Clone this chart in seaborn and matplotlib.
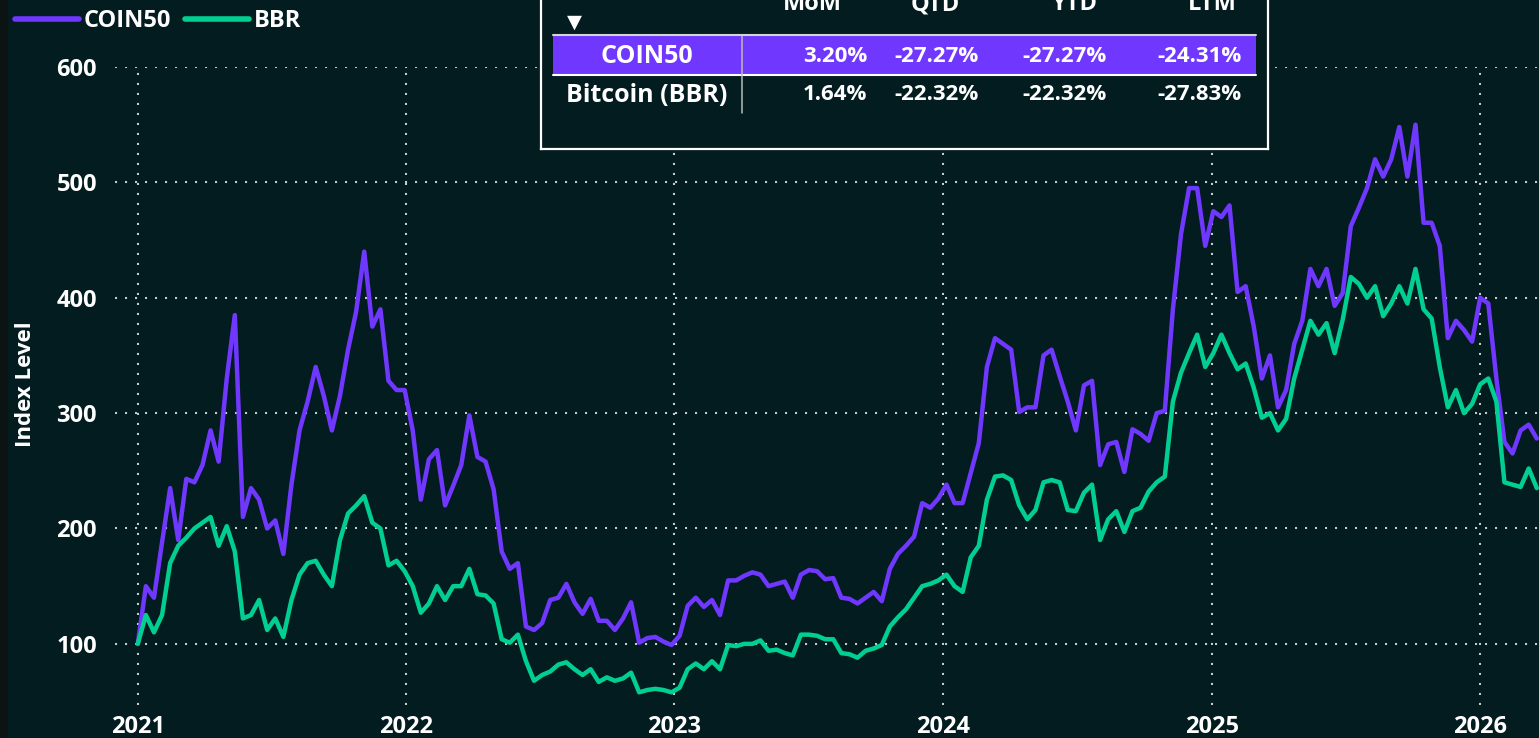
"""
COIN50 vs Bitcoin (BBR) index level chart with a small returns table on top
"""

import pandas as pd
import matplotlib
matplotlib.use('Agg')
import matplotlib.pyplot as plt
import seaborn as sns
from matplotlib.patches import Rectangle

W, H = 1539, 738
BG = '#031c20'
PURPLE = '#7038ff'
GREEN = '#00cf91'

# index levels, one reading every 11 days from 2021-01-01
start_date = '2021-01-01'
step = '11D'
coin50 = [100, 150, 140, 188, 235, 190, 243, 240, 255, 285, 258, 330, 385, 210, 235, 225, 200, 207, 178, 238,
          285, 310, 340, 315, 285, 315, 355, 388, 440, 375, 390, 328, 320, 320, 285, 225, 260, 268, 220, 237,
          255, 298, 262, 258, 234, 180, 165, 170, 115, 112, 118, 138, 140, 152, 136, 126, 139, 120, 120, 112,
          122, 136, 101, 105, 106, 102, 99, 107, 133, 140, 132, 138, 125, 155, 155, 159, 162, 160, 150, 152,
          154, 140, 160, 164, 163, 156, 157, 140, 139, 135, 140, 145, 137, 165, 178, 185, 193, 222, 218, 226,
          238, 222, 222, 248, 274, 340, 365, 360, 355, 301, 305, 305, 350, 355, 332, 310, 285, 324, 328, 255,
          273, 275, 249, 286, 282, 276, 300, 302, 390, 455, 495, 495, 445, 475, 470, 480, 405, 410, 375, 330,
          350, 305, 320, 360, 380, 425, 410, 425, 393, 404, 462, 478, 495, 520, 505, 520, 548, 505, 550, 465,
          465, 445, 365, 380, 372, 362, 400, 395, 330, 275, 265, 285, 290, 278]
bbr = [100, 125, 110, 125, 170, 185, 192, 200, 205, 210, 185, 202, 180, 122, 125, 138, 112, 122, 106, 138,
       160, 170, 172, 160, 150, 190, 213, 220, 228, 205, 200, 168, 172, 163, 150, 127, 135, 150, 138, 150,
       150, 165, 143, 142, 135, 104, 101, 108, 85, 68, 73, 76, 82, 84, 78, 73, 78, 67, 71, 68,
       70, 75, 58, 60, 61, 60, 58, 62, 78, 83, 78, 85, 78, 99, 98, 100, 100, 103, 94, 95,
       92, 90, 108, 108, 107, 104, 104, 92, 91, 88, 94, 96, 99, 115, 123, 130, 140, 150, 152, 155,
       160, 150, 145, 175, 185, 225, 245, 246, 242, 220, 208, 216, 240, 242, 240, 216, 215, 231, 238, 190,
       208, 215, 197, 215, 218, 232, 240, 245, 310, 335, 352, 368, 340, 352, 368, 352, 338, 343, 322, 296,
       300, 285, 295, 330, 355, 380, 368, 378, 352, 381, 418, 412, 400, 410, 384, 395, 410, 395, 425, 390,
       382, 340, 305, 320, 300, 308, 325, 330, 310, 240, 238, 236, 252, 235]

years = [2021, 2022, 2023, 2024, 2025, 2026]
y_ticks = [100, 200, 300, 400, 500, 600]

# returns table
periods = ['MoM', 'QTD', 'YTD', 'LTM']
row_names = ['COIN50', 'Bitcoin (BBR)']
coin50_ret = [3.20, -27.27, -27.27, -24.31]
bbr_ret = [1.64, -22.32, -22.32, -27.83]

dates = pd.date_range(start_date, periods=len(coin50), freq=step)
df = pd.DataFrame({'date': dates, 'COIN50': coin50, 'BBR': bbr})
df = df.melt('date', var_name='series', value_name='level')

sns.set_style('dark')
plt.rcParams['font.family'] = ['Open Sans', 'DejaVu Sans']
plt.rcParams['font.weight'] = 'bold'

fig = plt.figure(figsize=(W / 100, H / 100), dpi=100, facecolor=BG)
fig.patches.append(Rectangle((0, 0), 7 / W, 1, transform=fig.transFigure,
                             color='#0b1412', zorder=0))

ax = fig.add_axes([115 / W, 33 / H, 1424 / W, 638 / H])
ax.set_facecolor(BG)
sns.lineplot(data=df, x='date', y='level', hue='series',
             palette={'COIN50': PURPLE, 'BBR': GREEN}, linewidth=3.2, ax=ax)

ax.set_xlim(pd.Timestamp('2020-12-01'), pd.Timestamp('2026-03-22'))
ax.set_ylim(47, 600)
ax.set_xticks(pd.to_datetime([f'{y}-01-01' for y in years]))
ax.set_xticklabels([str(y) for y in years])
ax.set_yticks(y_ticks)
ax.grid(True, color='#c4c9c9', linestyle=(0, (1, 3.8)), linewidth=1.5)
for s in ax.spines.values():
    s.set_visible(False)
ax.tick_params(axis='both', colors='white', labelsize=17, length=0)
ax.tick_params(axis='x', pad=7)
ax.tick_params(axis='y', pad=13)
ax.set_xlabel('')
ax.set_ylabel('Index Level', color='white', fontsize=16, fontweight='bold')
ax.yaxis.set_label_coords(-0.0555, 0.503)

sns.move_legend(ax, 'upper left', bbox_to_anchor=(6 / W, 1), bbox_transform=fig.transFigure,
                ncol=2, title=None, frameon=False, fontsize=17, handlelength=2.7,
                handletextpad=0.2, columnspacing=0.6, borderaxespad=0, labelcolor='white')
for line in ax.get_legend().get_lines():
    line.set_linewidth(4)

# returns table drawn in pixel coordinates
tab = fig.add_axes([541 / W, (H - 149) / H, 727 / W, 160 / H])
tab.set_xlim(541, 1268)
tab.set_ylim(149, -11)
tab.set_facecolor(BG)
tab.set_xticks([])
tab.set_yticks([])
for s in tab.spines.values():
    s.set_color('white')
    s.set_linewidth(1.6)

tab.add_patch(Rectangle((553, 36), 703, 38, color=PURPLE, lw=0))
tab.plot([553, 1256], [34.5, 34.5], color='#d4d4d4', lw=1.5)
tab.plot([553, 1256], [75, 75], color='white', lw=1.5)
tab.plot([742, 742], [36, 113], color='#bcbcbc', lw=1.1)
tab.text(574, 22, '\u25bc', fontsize=14, color='white', ha='center', va='center', family='DejaVu Sans')

header_x = [812, 935, 1075, 1212]
value_right = [867, 979, 1107, 1242]
for hx, p in zip(header_x, periods):
    tab.text(hx, 10, p, ha='center', va='baseline', fontsize=17, color='white')
for ry, name, rets in zip([56, 95], row_names, [coin50_ret, bbr_ret]):
    tab.text(647, ry, name, ha='center', va='center', fontsize=18, color='white')
    for vx, v in zip(value_right, rets):
        tab.text(vx, ry, f'{v:.2f}%', ha='right', va='center', fontsize=16, color='white')

plt.savefig('out.png', dpi=100, facecolor=BG)
